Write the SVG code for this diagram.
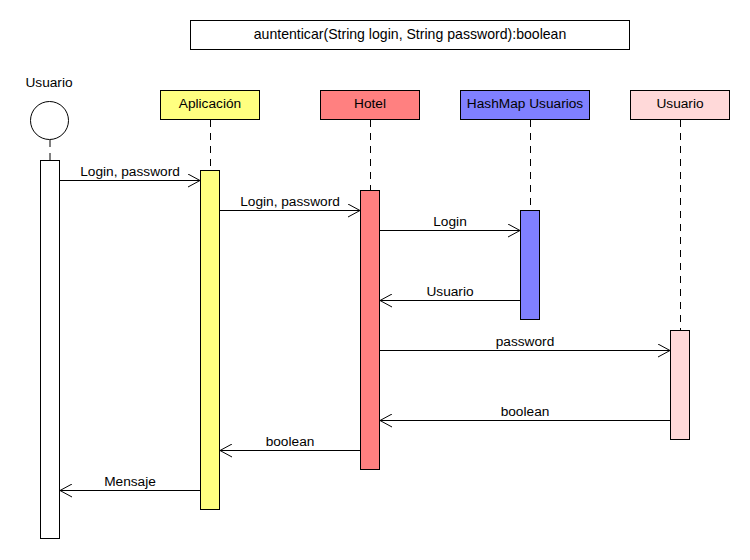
<svg xmlns="http://www.w3.org/2000/svg" width="750" height="560" viewBox="0 0 750 560">
<defs>
<style>
text{font-family:"Liberation Sans",Arial,sans-serif;font-size:13.7px;fill:#000;text-anchor:middle}
.box{stroke:#000;stroke-width:1}
.life{stroke:#000;stroke-width:1;stroke-dasharray:7,6;fill:none}
.msg{stroke:#000;stroke-width:1;fill:none;marker-end:url(#open)}
</style>
<marker id="open" viewBox="-13 -7 14 14" refX="0" refY="0" markerWidth="14" markerHeight="14" markerUnits="userSpaceOnUse" orient="auto">
<path d="M-12,-6.5 L0,0 L-12,6.5" fill="none" stroke="#000" stroke-width="1"/>
</marker>
</defs>
<rect width="750" height="560" fill="#fff"/>
<g id="title">
<rect x="190.5" y="20.5" width="439" height="29" fill="#fff" class="box"/>
<text x="410" y="38.5" style="font-size:14.1px">auntenticar(String login, String password):boolean</text>
</g>
<g id="actor">
<text x="49" y="87">Usuario</text>
<circle cx="49.5" cy="120.5" r="19" fill="#fff" class="box"/>
<line x1="50" y1="140" x2="50" y2="160" class="life"/>
<rect x="40.5" y="160.5" width="19" height="378" fill="#fff" class="box"/>
</g>
<g id="aplicacion">
<rect x="160.5" y="90.5" width="99" height="29" fill="#FFFF80" class="box"/>
<text x="210" y="108">Aplicación</text>
<line x1="210.5" y1="120" x2="210.5" y2="170" class="life"/>
<rect x="200.5" y="170.5" width="19" height="339" fill="#FFFF80" class="box"/>
</g>
<g id="hotel">
<rect x="320.5" y="90.5" width="99" height="29" fill="#FF8080" class="box"/>
<text x="370" y="108">Hotel</text>
<line x1="370.5" y1="120" x2="370.5" y2="190" class="life"/>
<rect x="360.5" y="190.5" width="19" height="279" fill="#FF8080" class="box"/>
</g>
<g id="hashmap">
<rect x="460.5" y="90.5" width="129" height="29" fill="#8080FF" class="box"/>
<text x="525" y="108">HashMap Usuarios</text>
<line x1="530.5" y1="120" x2="530.5" y2="210" class="life"/>
<rect x="520.5" y="210.5" width="19" height="109" fill="#8080FF" class="box"/>
</g>
<g id="usuario">
<rect x="630.5" y="90.5" width="99" height="29" fill="#FFD9D9" class="box"/>
<text x="680" y="108">Usuario</text>
<line x1="680.5" y1="120" x2="680.5" y2="330" class="life"/>
<rect x="670.5" y="330.5" width="19" height="109" fill="#FFD9D9" class="box"/>
</g>
<g id="connectors">
<line x1="60" y1="180.5" x2="200" y2="180.5" class="msg"/>
<text x="130" y="176">Login, password</text>
<line x1="220" y1="210.5" x2="360" y2="210.5" class="msg"/>
<text x="290" y="206">Login, password</text>
<line x1="380" y1="230.5" x2="520" y2="230.5" class="msg"/>
<text x="450" y="226">Login</text>
<line x1="520" y1="300.5" x2="380" y2="300.5" class="msg"/>
<text x="450" y="296">Usuario</text>
<line x1="380" y1="350.5" x2="670" y2="350.5" class="msg"/>
<text x="525" y="346">password</text>
<line x1="670" y1="420.5" x2="380" y2="420.5" class="msg"/>
<text x="525" y="416">boolean</text>
<line x1="360" y1="450.5" x2="220" y2="450.5" class="msg"/>
<text x="290" y="446">boolean</text>
<line x1="200" y1="490.5" x2="60" y2="490.5" class="msg"/>
<text x="130" y="486">Mensaje</text>
</g>
</svg>
